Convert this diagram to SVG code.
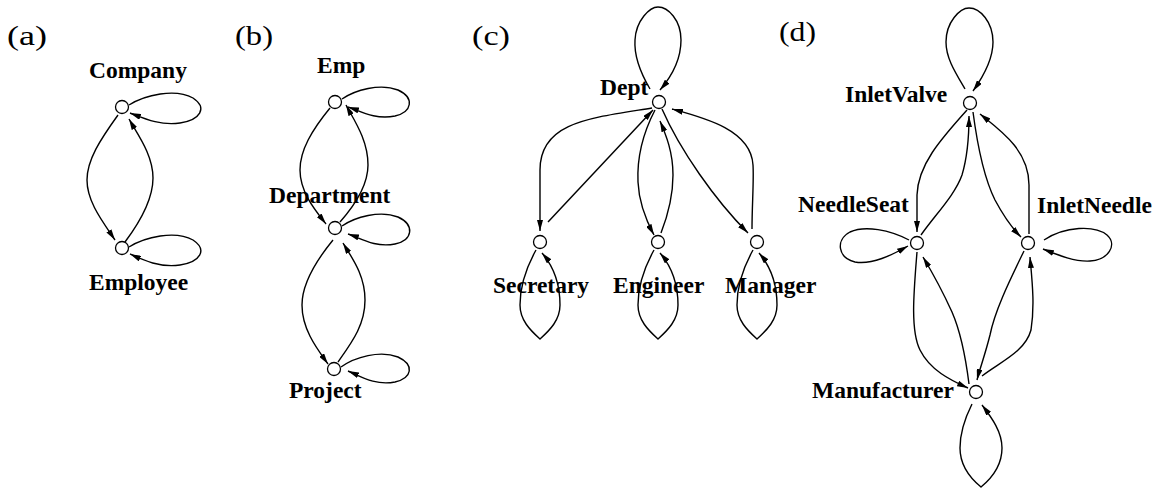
<svg xmlns="http://www.w3.org/2000/svg" width="1161" height="488" viewBox="0 0 1161 488">
  <style>
    .bg { fill: #ffffff; }
    .node { fill: #ffffff; stroke: #000000; stroke-width: 1.3; }
    .edge { fill: none; stroke: #000000; stroke-width: 1.4; marker-end: url(#arrow); }
    .label { font-family: "Liberation Serif", "Times New Roman", serif; font-weight: bold; font-size: 23.5px; fill: #000000; }
    .panel { font-family: "Liberation Serif", "Times New Roman", serif; font-size: 27px; fill: #000000; }
  </style>
  <defs>
    <marker id="arrow" viewBox="0 0 11 6" markerWidth="11" markerHeight="6" refX="11" refY="3" markerUnits="userSpaceOnUse" orient="auto">
      <path d="M0,0 L11,3 L0,6 Z" fill="#000000"/>
    </marker>
  </defs>

  <rect class="bg" x="0" y="0" width="1161" height="488"/>

  <!-- panel captions -->
  <g id="captions">
    <text class="panel" x="7" y="45" textLength="40" lengthAdjust="spacingAndGlyphs">(a)</text>
    <text class="panel" x="235" y="45" textLength="38" lengthAdjust="spacingAndGlyphs">(b)</text>
    <text class="panel" x="472" y="45" textLength="38" lengthAdjust="spacingAndGlyphs">(c)</text>
    <text class="panel" x="779" y="41" textLength="37" lengthAdjust="spacingAndGlyphs">(d)</text>
  </g>

  <!-- connectors -->
  <g id="connectors">
    <!-- (a) -->
    <path class="edge" d="M118,115 C100,140 87,160 87,180 C87,202 103,222 115,240"/>
    <path class="edge" d="M125,242 C140,222 153,200 153,178 C153,155 138,135 129,119"/>
    <path class="edge" d="M129,105 C145,95 175,88 193,98 C208,108 200,120 180,123 C160,126 143,118 130,113"/>
    <path class="edge" d="M129,247 C145,237 175,230 193,240 C208,250 200,262 180,265 C160,268 143,260 130,254"/>

    <!-- (b) -->
    <path class="edge" d="M330,108 C312,130 300,150 300,170 C300,192 315,210 326,224"/>
    <path class="edge" d="M340,222 C355,205 368,185 368,165 C368,140 354,120 346,105"/>
    <path class="edge" d="M342,99 C355,90 380,83 398,90 C415,98 412,112 395,116 C375,120 360,111 348,107"/>
    <path class="edge" d="M342,226 C355,217 380,210 398,217 C415,225 413,240 395,244 C375,248 360,238 348,234"/>
    <path class="edge" d="M333,240 C315,262 302,285 302,305 C302,330 318,350 328,364"/>
    <path class="edge" d="M338,362 C352,342 365,325 365,300 C365,275 352,258 343,243"/>
    <path class="edge" d="M341,367 C355,357 380,350 398,357 C415,365 412,378 395,382 C375,386 360,376 348,371"/>

    <!-- (c) -->
    <path class="edge" d="M650,89 C640,72 634,55 635,40 C636,20 650,7 658,7 C668,7 681,20 681,40 C681,58 672,76 660,90"/>
    <path class="edge" d="M652,108 C590,118 540,122 540,170 L540,231"/>
    <path class="edge" d="M548,222 L653,110"/>
    <path class="edge" d="M655,110 C642,135 637,160 638,182 C639,205 647,222 654,235"/>
    <path class="edge" d="M661,233 C668,215 673,195 673,175 C673,152 666,135 660,121"/>
    <path class="edge" d="M662,109 C680,150 715,200 748,233"/>
    <path class="edge" d="M752,229 C752,205 754,180 753,165 C751,130 705,118 672,109"/>
    <path class="edge" d="M536,250 C526,268 520,288 520,305 C520,320 530,330 540,339 C550,330 560,320 560,305 C560,285 554,267 542,253"/>
    <path class="edge" d="M654,250 C644,268 638,288 638,305 C638,320 648,330 658,339 C668,330 678,320 678,305 C678,285 672,267 660,253"/>
    <path class="edge" d="M753,250 C743,268 737,288 737,305 C737,320 747,330 757,339 C767,330 777,320 777,305 C777,285 771,267 759,253"/>

    <!-- (d) -->
    <path class="edge" d="M965,89 C955,72 946,58 946,42 C946,22 960,8 969,8 C980,8 993,22 993,42 C993,60 983,77 973,91"/>
    <path class="edge" d="M967,110 C940,140 918,165 917,195 L917,232"/>
    <path class="edge" d="M921,235 C935,215 955,195 962,175 C968,155 969,135 969,116"/>
    <path class="edge" d="M973,112 C978,150 985,180 995,200 C1003,215 1012,228 1021,237"/>
    <path class="edge" d="M1029,234 L1029,185 C1029,150 1000,130 980,114"/>
    <path class="edge" d="M909,240 C890,230 865,225 850,232 C835,240 838,258 855,262 C872,265 892,255 908,246"/>
    <path class="edge" d="M1044,240 C1065,226 1095,225 1107,235 C1118,245 1108,260 1090,261 C1075,262 1058,255 1043,249"/>
    <path class="edge" d="M917,252 C914,290 910,330 920,350 C930,370 950,380 968,388"/>
    <path class="edge" d="M969,384 C966,360 962,335 952,312 C942,290 932,272 923,257"/>
    <path class="edge" d="M1024,251 C1010,280 995,310 990,335 C985,355 980,368 977,380"/>
    <path class="edge" d="M982,376 C1000,362 1025,352 1031,330 C1035,305 1032,280 1030,257"/>
    <path class="edge" d="M972,404 C965,418 960,432 960,448 C960,466 970,478 981,487 C992,478 1002,466 1002,448 C1002,432 992,418 982,405"/>
  </g>

  <!-- (a) nodes -->
  <g id="node-company">
    <circle class="node" cx="122" cy="107" r="6.5"/>
    <text class="label" x="89" y="78">Company</text>
  </g>
  <g id="node-employee">
    <circle class="node" cx="122" cy="248" r="6.5"/>
    <text class="label" x="89" y="290">Employee</text>
  </g>

  <!-- (b) nodes -->
  <g id="node-emp">
    <circle class="node" cx="335" cy="102" r="6.5"/>
    <text class="label" x="317" y="73">Emp</text>
  </g>
  <g id="node-department">
    <circle class="node" cx="335" cy="228" r="6.5"/>
    <text class="label" x="269" y="203">Department</text>
  </g>
  <g id="node-project">
    <circle class="node" cx="334" cy="369" r="6.5"/>
    <text class="label" x="289" y="398">Project</text>
  </g>

  <!-- (c) nodes -->
  <g id="node-dept">
    <circle class="node" cx="659" cy="102" r="6.5"/>
    <text class="label" x="600" y="95">Dept</text>
  </g>
  <g id="node-secretary">
    <circle class="node" cx="540" cy="242" r="6.5"/>
    <text class="label" x="493" y="293">Secretary</text>
  </g>
  <g id="node-engineer">
    <circle class="node" cx="658" cy="242" r="6.5"/>
    <text class="label" x="613" y="293">Engineer</text>
  </g>
  <g id="node-manager">
    <circle class="node" cx="757" cy="242" r="6.5"/>
    <text class="label" x="725" y="293">Manager</text>
  </g>

  <!-- (d) nodes -->
  <g id="node-inletvalve">
    <circle class="node" cx="970" cy="103" r="6.5"/>
    <text class="label" x="845" y="102">InletValve</text>
  </g>
  <g id="node-needleseat">
    <circle class="node" cx="917" cy="243" r="6.5"/>
    <text class="label" x="798" y="212">NeedleSeat</text>
  </g>
  <g id="node-inletneedle">
    <circle class="node" cx="1028" cy="243" r="6.5"/>
    <text class="label" x="1037" y="213">InletNeedle</text>
  </g>
  <g id="node-manufacturer">
    <circle class="node" cx="976" cy="392" r="6.5"/>
    <text class="label" x="812" y="398">Manufacturer</text>
  </g>
</svg>
